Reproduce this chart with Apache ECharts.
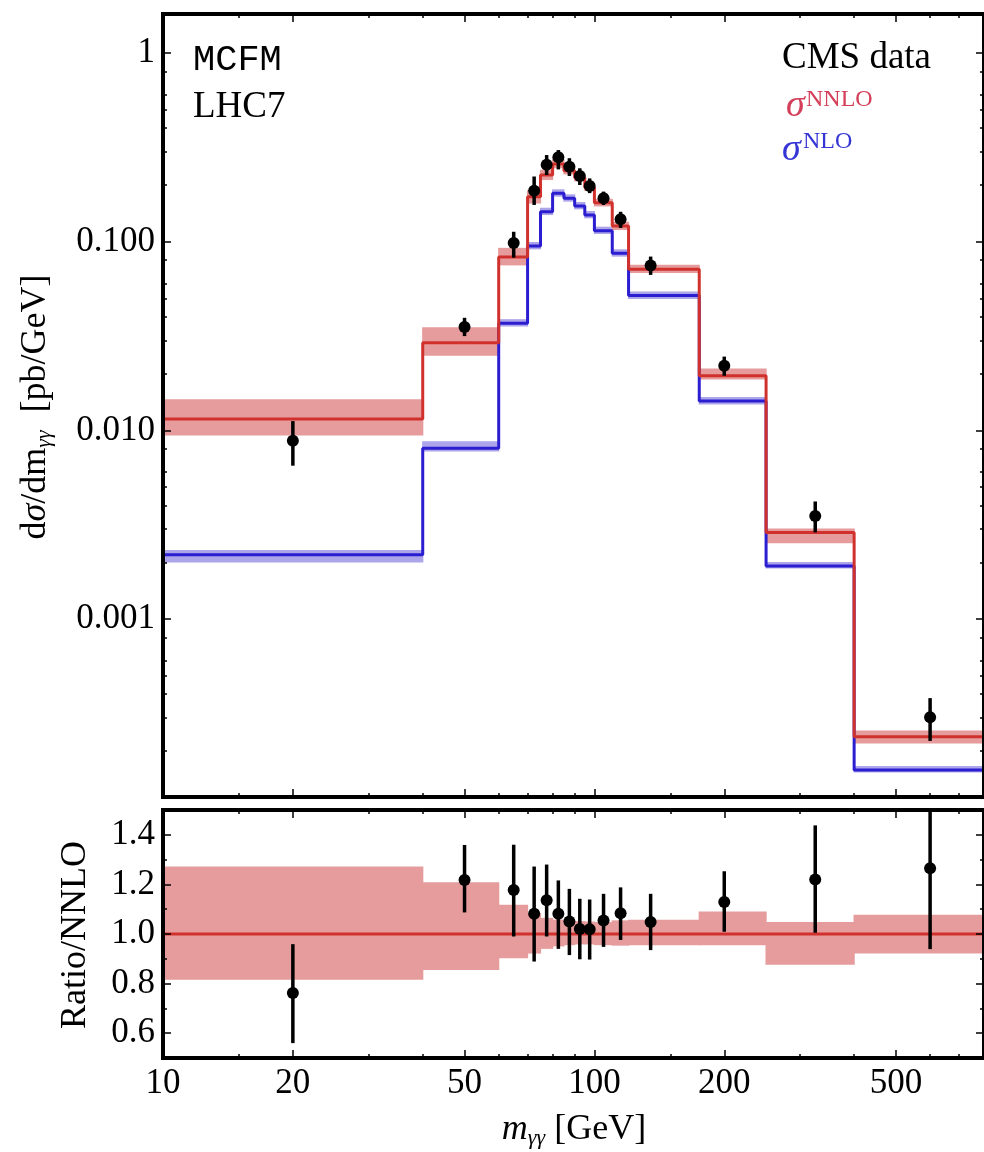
<!DOCTYPE html>
<html>
<head>
<meta charset="utf-8">
<script src="https://cdn.jsdelivr.net/npm/echarts@6.0.0/dist/echarts.min.js"></script>
<style>
  html, body { margin: 0; padding: 0; background: #fff; }
  #chart { width: 984px; height: 1152px; }
</style>
</head>
<body>
<div id="chart"></div>
<script>
// bin edges of m_yy [GeV]
var edges = [10, 40, 60, 70, 75, 80, 85, 90, 95, 100, 110, 120, 175, 250, 400, 800];

// NNLO / NLO predictions per bin [pb/GeV]
var nnlo = [0.0115, 0.0291, 0.083, 0.173, 0.226, 0.258, 0.238, 0.218, 0.194, 0.161, 0.121, 0.0714, 0.0195, 0.00288, 0.000238];
var nnloBandLo = [0.816, 0.855, 0.902, 0.921, 0.940, 0.950, 0.955, 0.958, 0.958, 0.955, 0.953, 0.955, 0.955, 0.876, 0.921];
var nnloBandHi = [1.272, 1.209, 1.118, 1.084, 1.065, 1.058, 1.055, 1.052, 1.050, 1.048, 1.055, 1.057, 1.091, 1.048, 1.078];
var nlo = [0.00219, 0.00804, 0.0370, 0.0949, 0.1442, 0.1805, 0.1698, 0.1546, 0.1385, 0.1144, 0.0868, 0.0518, 0.0143, 0.00191, 0.0001586];
var nloBandLo = [0.91, 0.96, 0.96, 0.96, 0.96, 0.96, 0.96, 0.96, 0.96, 0.96, 0.96, 0.96, 0.96, 0.97, 0.97];
var nloBandHi = [1.06, 1.09, 1.05, 1.05, 1.05, 1.05, 1.05, 1.05, 1.05, 1.05, 1.05, 1.05, 1.05, 1.05, 1.05];

// CMS data
var dataX  = [20, 50, 65, 72.5, 77.5, 82.5, 87.5, 92.5, 97.5, 105, 115, 135, 200, 325, 600];
var dataY  = [0.00882, 0.0353, 0.0984, 0.1864, 0.2558, 0.2801, 0.2496, 0.2229, 0.1973, 0.1698, 0.1314, 0.0749, 0.0220, 0.00352, 0.000302];
var dataLo = [0.0065, 0.0316, 0.0823, 0.1566, 0.2256, 0.2417, 0.2230, 0.1998, 0.1809, 0.1566, 0.1183, 0.0667, 0.01947, 0.00288, 0.000226];
var dataHi = [0.0112, 0.0395, 0.1129, 0.2216, 0.2879, 0.306, 0.2770, 0.245, 0.2165, 0.1843, 0.1441, 0.0834, 0.0246, 0.00420, 0.000381];

// data / NNLO
var ratioY  = [0.762, 1.218, 1.177, 1.082, 1.136, 1.082, 1.050, 1.020, 1.019, 1.054, 1.084, 1.048, 1.129, 1.220, 1.265];
var ratioLo = [0.560, 1.087, 0.990, 0.889, 0.990, 0.940, 0.915, 0.898, 0.897, 0.948, 0.976, 0.935, 1.009, 1.005, 0.939];
var ratioHi = [0.959, 1.359, 1.360, 1.272, 1.280, 1.216, 1.182, 1.142, 1.139, 1.162, 1.188, 1.162, 1.253, 1.438, 1.520];

// ticks
var xMajor = [10, 20, 50, 100, 200, 500];
var xMinor = [15, 30, 40, 60, 70, 80, 90, 150, 300, 400, 600, 700];
var yMajor = [0.001, 0.01, 0.1, 1];
var yMinor = [0.0002, 0.0003, 0.0004, 0.0005, 0.0006, 0.0008,
              0.002, 0.003, 0.004, 0.005, 0.006, 0.008,
              0.02, 0.03, 0.04, 0.05, 0.06, 0.08,
              0.2, 0.3, 0.4, 0.5, 0.6, 0.8];
var rMajor = [0.6, 0.8, 1.0, 1.2, 1.4];
var rMinor = [0.5, 0.7, 0.9, 1.1, 1.3, 1.5];

var RED = '#d0312d', RED_BAND = '#e69c9c';
var BLUE = '#2b1dd0', BLUE_BAND = '#aca5ea';
var SERIF = '"Liberation Serif", "Times New Roman", serif';

var myChart = echarts.init(document.getElementById('chart'), null, { renderer: 'canvas' });

function stepPts(vals) {
    return edges.map(function (e, i) { return [e, vals[Math.min(i, vals.length - 1)]]; });
}
function bandRects(vals, lo, hi) {
    return vals.map(function (v, i) { return [edges[i], edges[i + 1], v * lo[i], v * hi[i]]; });
}

//一个轴：主刻度带标签/框线，次刻度只画短线
function makeAxis(grid, pos, type, range, ticks, len, major, labelFmt) {
    var a = {
        type: type, gridIndex: grid, position: pos, z: 10,
        min: range[0], max: range[1],
        splitLine: { show: false },
        axisLine: { show: major, onZero: false, lineStyle: { color: '#000', width: 4, cap: 'square' } },
        axisTick: { show: true, inside: true, length: len, customValues: ticks,
                    lineStyle: { color: '#000', width: 1.5 } },
        axisLabel: { show: false }
    };
    if (type === 'log') a.logBase = 10;
    if (labelFmt) {
        a.axisLabel = { show: true, customValues: ticks, formatter: labelFmt, margin: 8,
                        fontFamily: SERIF, fontSize: 35, color: '#000' };
    }
    return a;
}

var xr = [10, 800], yr = [1.14e-4, 1.61], rr = [0.5, 1.5];
var fmtX = function (v) { return String(Math.round(v)); };
var fmtY = function (v) { return Math.abs(v - 1) < 1e-9 ? '1' : Number(v).toFixed(3); };
var fmtR = function (v) { return Number(v).toFixed(1); };

var xAxes = [
    makeAxis(0, 'bottom', 'log', xr, xMajor, 8, true),
    makeAxis(0, 'bottom', 'log', xr, xMinor, 4, false),
    makeAxis(0, 'top', 'log', xr, xMajor, 8, true),
    makeAxis(0, 'top', 'log', xr, xMinor, 4, false),
    makeAxis(1, 'bottom', 'log', xr, xMajor, 8, true, fmtX),
    makeAxis(1, 'bottom', 'log', xr, xMinor, 4, false),
    makeAxis(1, 'top', 'log', xr, xMajor, 8, true),
    makeAxis(1, 'top', 'log', xr, xMinor, 4, false)
];
var yAxes = [
    makeAxis(0, 'left', 'log', yr, yMajor, 8, true, fmtY),
    makeAxis(0, 'left', 'log', yr, yMinor, 4, false),
    makeAxis(0, 'right', 'log', yr, yMajor, 8, true),
    makeAxis(0, 'right', 'log', yr, yMinor, 4, false),
    makeAxis(1, 'left', 'value', rr, rMajor, 8, true, fmtR),
    makeAxis(1, 'left', 'value', rr, rMinor, 4, false),
    makeAxis(1, 'right', 'value', rr, rMajor, 8, true),
    makeAxis(1, 'right', 'value', rr, rMinor, 4, false)
];

function bandSeries(data, color, xi, yi) {
    return {
        type: 'custom', xAxisIndex: xi, yAxisIndex: yi, z: 1, clip: true, silent: true,
        data: data,
        renderItem: function (params, api) {
            var p0 = api.coord([api.value(0), api.value(3)]);
            var p1 = api.coord([api.value(1), api.value(2)]);
            var cs = params.coordSys;
            // 稍微加宽一点，避免相邻格子之间出现细缝
            var r = echarts.graphic.clipRectByRect(
                { x: p0[0] - 0.6, y: p0[1], width: p1[0] - p0[0] + 1.2, height: p1[1] - p0[1] },
                { x: cs.x, y: cs.y, width: cs.width, height: cs.height });
            return r && { type: 'rect', shape: r, style: { fill: color } };
        }
    };
}
function errSeries(xs, lo, hi, xi, yi) {
    return {
        type: 'custom', xAxisIndex: xi, yAxisIndex: yi, z: 4, clip: true, silent: true,
        data: xs.map(function (x, i) { return [x, lo[i], hi[i]]; }),
        renderItem: function (params, api) {
            var a = api.coord([api.value(0), api.value(1)]);
            var b = api.coord([api.value(0), api.value(2)]);
            return { type: 'line', shape: { x1: a[0], y1: a[1], x2: b[0], y2: b[1] },
                     style: { stroke: '#000', lineWidth: 3.5 } };
        }
    };
}
function stepSeries(vals, color, xi, yi) {
    return {
        type: 'line', xAxisIndex: xi, yAxisIndex: yi, z: 3, step: 'end', symbol: 'none',
        silent: true, animation: false, data: stepPts(vals),
        lineStyle: { color: color, width: 3 }
    };
}
function pointSeries(ys, xi, yi) {
    return {
        type: 'scatter', xAxisIndex: xi, yAxisIndex: yi, z: 5, symbol: 'circle', symbolSize: 12,
        itemStyle: { color: '#000', opacity: 1 }, silent: true,
        data: dataX.map(function (x, i) { return [x, ys[i]]; })
    };
}

var ratioBand = nnloBandLo.map(function (l, i) { return [edges[i], edges[i + 1], l, nnloBandHi[i]]; });
var ones = nnlo.map(function () { return 1; });

var option = {
    animation: false,
    backgroundColor: '#fff',
    grid: [
        { left: 163, top: 14, width: 826, height: 783 },
        { left: 163, top: 810, width: 826, height: 248 }
    ],
    xAxis: xAxes,
    yAxis: yAxes,
    series: [
        bandSeries(bandRects(nlo, nloBandLo, nloBandHi), BLUE_BAND, 0, 0),
        bandSeries(bandRects(nnlo, nnloBandLo, nnloBandHi), RED_BAND, 0, 0),
        stepSeries(nlo, BLUE, 0, 0),
        stepSeries(nnlo, RED, 0, 0),
        errSeries(dataX, dataLo, dataHi, 0, 0),
        pointSeries(dataY, 0, 0),
        bandSeries(ratioBand, RED_BAND, 4, 4),
        stepSeries(ones, RED, 4, 4),
        errSeries(dataX, ratioLo, ratioHi, 4, 4),
        pointSeries(ratioY, 4, 4)
    ],
    graphic: [
        { type: 'text', x: 193, y: 60, z: 20,
          style: { text: 'MCFM', fontFamily: '"Liberation Mono", monospace', fontSize: 37, fill: '#000', verticalAlign: 'middle' } },
        { type: 'text', x: 193, y: 107, z: 20,
          style: { text: 'LHC7', fontFamily: SERIF, fontSize: 37, fill: '#000', verticalAlign: 'middle' } },
        { type: 'text', x: 782, y: 58, z: 20,
          style: { text: 'CMS data', fontFamily: SERIF, fontSize: 37, fill: '#000', verticalAlign: 'middle' } },
        { type: 'text', x: 786, y: 106, z: 20,
          style: { text: 'σ', fontFamily: SERIF, fontStyle: 'italic', fontSize: 38, fill: '#d4405a', verticalAlign: 'middle' } },
        { type: 'text', x: 806, y: 100, z: 20,
          style: { text: 'NNLO', fontFamily: SERIF, fontSize: 24, fill: '#d4405a', verticalAlign: 'middle' } },
        { type: 'text', x: 782, y: 150, z: 20,
          style: { text: 'σ', fontFamily: SERIF, fontStyle: 'italic', fontSize: 38, fill: '#3535d5', verticalAlign: 'middle' } },
        { type: 'text', x: 803, y: 142, z: 20,
          style: { text: 'NLO', fontFamily: SERIF, fontSize: 24, fill: '#3535d5', verticalAlign: 'middle' } },
        { type: 'text', x: 36, y: 407, rotation: Math.PI / 2, z: 20,
          style: { text: 'd{i|σ}/dm{sub|γγ}  [pb/GeV]', fontFamily: SERIF, fontSize: 36, fill: '#000',
                   align: 'center', verticalAlign: 'middle',
                   rich: { i: { fontFamily: SERIF, fontStyle: 'italic', fontSize: 36 },
                           sub: { fontFamily: SERIF, fontStyle: 'italic', fontSize: 22, padding: [16, 0, 0, 0] } } } },
        { type: 'text', x: 76, y: 935, rotation: Math.PI / 2, z: 20,
          style: { text: 'Ratio/NNLO', fontFamily: SERIF, fontSize: 36, fill: '#000',
                   align: 'center', verticalAlign: 'middle' } },
        { type: 'text', x: 574, y: 1130, z: 20,
          style: { text: '{i|m}{sub|γγ} [GeV]', fontFamily: SERIF, fontSize: 36, fill: '#000',
                   align: 'center', verticalAlign: 'middle',
                   rich: { i: { fontFamily: SERIF, fontStyle: 'italic', fontSize: 36 },
                           sub: { fontFamily: SERIF, fontStyle: 'italic', fontSize: 22, padding: [16, 0, 0, 0] } } } }
    ]
};

myChart.setOption(option);
</script>
</body>
</html>
